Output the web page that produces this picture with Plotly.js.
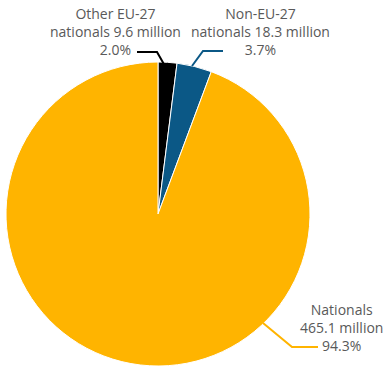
<!DOCTYPE html>
<html>
<head>
<meta charset="utf-8">
<script src="https://cdn.plot.ly/plotly-3.0.1.min.js"></script>
<style>html,body{margin:0;padding:0;background:#fff;}#chart{width:384px;height:369px;}</style>
</head>
<body>
<div id="chart"></div>
<script>
const categories = ["Other EU-27 nationals", "Non-EU-27 nationals", "Nationals"];
const millions = [9.6, 18.3, 465.1];
const shares = [2.0, 3.7, 94.3];
const colors = ["#000000", "#0b5886", "#ffb400"];
const labelTexts = [
  "Other EU-27<br>nationals 9.6 million<br>2.0%",
  "Non-EU-27<br>nationals 18.3 million<br>3.7%",
  "Nationals<br>465.1 million<br>94.3%"
];

const W = 384, H = 369;
const px = (x) => x / W;
const py = (y) => 1 - y / H;

const labelPos = [[115, 31], [260, 31], [341, 327]];
const leaders = [
  [[137, 52], [157, 52], [165, 66]],
  [[223, 51], [203, 51], [192, 66]],
  [[263, 323], [292, 347], [318, 347]]
];

const annotations = labelTexts.map((t, i) => ({
  text: t, xref: "paper", yref: "paper",
  x: px(labelPos[i][0]), y: py(labelPos[i][1]),
  xanchor: "center", yanchor: "middle", align: "center",
  showarrow: false,
  font: {family: "Open Sans", size: 14, color: "#595959"}
}));

const shapes = leaders.map((pts, i) => ({
  type: "path", xref: "paper", yref: "paper",
  path: "M" + pts.map(p => px(p[0]) + "," + py(p[1])).join(" L"),
  line: {color: colors[i], width: 2}
}));

const data = [{
  type: "pie",
  labels: categories,
  values: shares,
  customdata: millions,
  sort: false,
  direction: "clockwise",
  rotation: 0,
  textinfo: "none",
  hoverinfo: "none",
  marker: {colors: colors, line: {color: "#ffffff", width: 1}},
  domain: {x: [px(6), px(310)], y: [py(366), py(62)]}
}];

const layout = {
  width: W, height: H,
  margin: {l: 0, r: 0, t: 0, b: 0},
  showlegend: false,
  paper_bgcolor: "#ffffff",
  annotations: annotations,
  shapes: shapes
};

Plotly.newPlot("chart", data, layout, {displayModeBar: false, staticPlot: true});
</script>
</body>
</html>
